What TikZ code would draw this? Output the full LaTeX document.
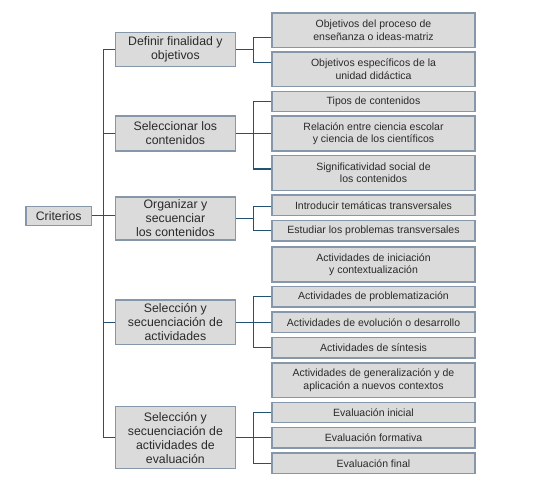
\documentclass[tikz,border=0pt]{standalone}
\usepackage{fontspec}
\setmainfont{Liberation Sans}
\usetikzlibrary{calc}
\definecolor{boxfill}{HTML}{DBDBDB}
\definecolor{boxline}{HTML}{8597A8}
\definecolor{connline}{HTML}{235173}
\definecolor{txt}{HTML}{2A2A2A}
\tikzset{
  basebox/.style={draw=boxline, fill=boxfill, line width=1.4pt, text=txt, align=center, inner sep=0pt},
  lvlbox/.style={basebox, minimum width=120pt, font=\fontsize{12.3}{14}\selectfont},
  kidbox/.style={basebox, minimum width=203pt, minimum height=20.5pt, font=\fontsize{10.5}{12.3}\selectfont},
  kidtwo/.style={kidbox, minimum height=34.8pt},
  conn/.style={draw=connline, line width=1.2pt}
}
\begin{document}
\begin{tikzpicture}[x=1pt,y=-1pt]
\useasboundingbox (0,0) rectangle (548,483);
% root
\node[basebox, minimum width=65.4pt, minimum height=19pt, font=\fontsize{12.3}{14}\selectfont] (crit) at (58.7,215.8) {Criterios};
% level 2
\node[lvlbox, minimum height=34.3pt] (b1) at (175.4,49.5) {Definir finalidad y\\objetivos};
\node[lvlbox, minimum height=34.7pt] (b2) at (175.4,133.5) {Seleccionar los\\contenidos};
\node[lvlbox, minimum height=43.1pt] (b3) at (175.4,218.5) {Organizar y\\secuenciar\\los contenidos};
\node[lvlbox, minimum height=44.3pt] (b4) at (175.4,322.3) {Selección y\\secuenciación de\\actividades};
\node[lvlbox, minimum height=61.7pt] (b5) at (175.4,437.6) {Selección y\\secuenciación de\\actividades de\\evaluación};
% children
\node[kidtwo] (c1) at (373.5,30.2) {Objetivos del proceso de\\enseñanza o ideas-matriz};
\node[kidtwo] (c2) at (373.5,69.2) {Objetivos específicos de la\\unidad didáctica};
\node[kidbox] (c3) at (373.5,101.5) {Tipos de contenidos};
\node[kidtwo] (c4) at (373.5,133.5) {Relación entre ciencia escolar\\y ciencia de los científicos};
\node[kidtwo] (c5) at (373.5,172.8) {Significatividad social de\\los contenidos};
\node[kidbox] (c6) at (373.5,205.4) {Introducir temáticas transversales};
\node[kidbox] (c7) at (373.5,230.7) {Estudiar los problemas transversales};
\node[kidtwo] (c8) at (373.5,264.5) {Actividades de iniciación\\y contextualización};
\node[kidbox] (c9) at (373.5,296.8) {Actividades de problematización};
\node[kidbox] (c10) at (373.5,322.2) {Actividades de evolución o desarrollo};
\node[kidbox] (c11) at (373.5,347.7) {Actividades de síntesis};
\node[kidtwo] (c12) at (373.5,380.3) {Actividades de generalización y de\\aplicación a nuevos contextos};
\node[kidbox] (c13) at (373.5,412.5) {Evaluación inicial};
\node[kidbox] (c14) at (373.5,437.8) {Evaluación formativa};
\node[kidbox] (c15) at (373.5,463.2) {Evaluación final};
% helper x positions
\coordinate (tr) at (103.5,0);
\coordinate (br) at (253.3,0);
% trunk
\draw[conn] (crit.east) -- (crit.east -| b3.west);
\draw[conn] (b1.west) -- (b1.west -| tr) -- (b5.west -| tr) -- (b5.west);
\draw[conn] (b2.west) -- (b2.west -| tr);
\draw[conn] (b4.west) -- (b4.west -| tr);
% B1 bracket
\draw[conn] (b1.east) -- (b1.east -| br);
\draw[conn] ([yshift=-7.5pt]c1.west) -| (b1.east -| br);
\draw[conn] ([yshift=6.9pt]c2.west) -| (b1.east -| br);
% B2 bracket
\draw[conn] (b2.east) -- (c4.west);
\draw[conn] (c3.west) -| (b2.east -| br);
\draw[conn] ([yshift=3.8pt]c5.west) -| (b2.east -| br);
% B3 bracket
\draw[conn] (b3.east) -- (b3.east -| br);
\draw[conn] ([yshift=-1.3pt]c6.west) -| (b3.east -| br);
\draw[conn] (c7.west) -| (b3.east -| br);
% B4 bracket
\draw[conn] (b4.east) -- (b4.east -| br);
\draw[conn] (c9.west) -| (b4.east -| br);
\draw[conn] (c10.west) -| (b4.east -| br);
\draw[conn] (c11.west) -| (b4.east -| br);
% B5 bracket
\draw[conn] (b5.east) -- (b5.east -| br);
\draw[conn] (c13.west) -| (b5.east -| br);
\draw[conn] (c14.west) -| (b5.east -| br);
\draw[conn] (c15.west) -| (b5.east -| br);
\end{tikzpicture}
\end{document}
